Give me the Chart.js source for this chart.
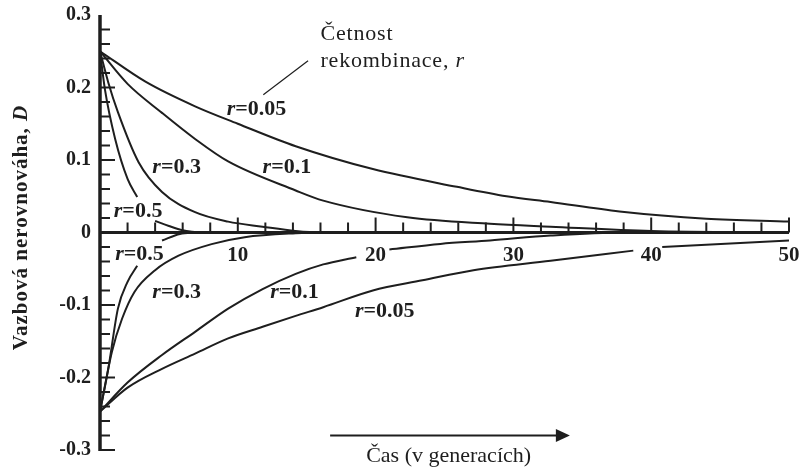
<!DOCTYPE html>
<html>
<head>
<meta charset="utf-8">
<script src="https://cdn.jsdelivr.net/npm/chart.js@4.4.0/dist/chart.umd.min.js"></script>
<style>
  html, body { margin: 0; padding: 0; background: #fff; }
</style>
</head>
<body>
<canvas id="chartLD" width="799" height="467"></canvas>
<script>
// Hodnoty: [generace, D], null = mezera kvůli popisku
const kladne005 = [[0, 0.25], [3.3, 0.208], [6.9, 0.174], [10, 0.150], [14.2, 0.119], [19.8, 0.0875],
                   [25.9, 0.063], [29.5, 0.050], [32.7, 0.042], [37.7, 0.029], [44, 0.019], [50, 0.015]];
const kladne01  = [[0, 0.25], [2, 0.205], [4.5, 0.165], [6.9, 0.129], [9.3, 0.098], [14.2, 0.058],
                   [16.2, 0.044], [22.3, 0.021], [28.3, 0.012], [32.7, 0.008], [40, 0.002], [50, 0]];
const kladne03  = [[0, 0.25], [0.6, 0.207], [1.3, 0.166], [2.8, 0.097], [4.5, 0.056], [6.9, 0.028],
                   [9.3, 0.015], [11.8, 0.008], [14.2, 0.002], [16, 0], [20, 0]];
const kladne05  = [[0, 0.25], [0.36, 0.197], [1.1, 0.129], [2.0, 0.074], [2.7, 0.049], [3.3, null],
                   [4.0, 0.016], [5.0, 0.009], [6.0, 0.003], [7, 0]];

const zaporne05  = [[0, -0.247], [0.6, -0.188], [1.3, -0.105], [2.0, -0.068], [2.7, -0.046], [3.5, null],
                    [4.5, -0.011], [5.8, -0.002], [7, 0]];
const zaporne03  = [[0, -0.247], [0.87, -0.164], [1.6, -0.119], [2.5, -0.082], [4.0, -0.052], [5.7, -0.032],
                    [8.1, -0.016], [10.5, -0.0065], [14.2, -0.001], [16, 0], [20, 0]];
const zaporne01  = [[0, -0.247], [2, -0.207], [4.5, -0.169], [6.9, -0.137], [9.3, -0.105], [11.8, -0.078],
                    [14.2, -0.057], [16.2, -0.044], [18.6, -0.034], [19.8, null], [21, -0.0235],
                    [24.7, -0.0157], [28.3, -0.011], [32.7, -0.0042], [38, 0], [50, 0]];
const zaporne005 = [[0, -0.247], [2, -0.214], [4.5, -0.188], [6.9, -0.167], [9.3, -0.146], [11.8, -0.130],
                    [14.2, -0.115], [16.2, -0.103], [19.8, -0.080], [23.4, -0.066], [27.1, -0.052],
                    [32.7, -0.039], [38.7, -0.025], [39.7, null], [40.8, -0.020], [50, -0.011]];

const serie = [kladne005, kladne01, kladne03, kladne05, zaporne05, zaporne03, zaporne01, zaporne005];

// Popisky křivek (hodnota r) a jejich ukotvení [generace, D]
const popiskyR   = ['0.05', '0.1', '0.3', '0.5', '0.5', '0.3', '0.1', '0.05'];
const popiskyPos = [[9.2, 0.170], [11.8, 0.090], [3.8, 0.090], [1.0, 0.029],
                    [1.1, -0.030], [3.8, -0.083], [12.35, -0.083], [18.5, -0.109]];

const xMin = 0, xMax = 50, yMin = -0.3, yMax = 0.3;
const ink = '#1e1e1e';
const serif = '"Liberation Serif", "Times New Roman", serif';

/* =======================
   OSY, ZNAČKY, POPISKY
======================= */
const kresba = {
    id: 'kresba',
    afterDatasetsDraw(chart) {
        const { ctx, scales: { x, y } } = chart;
        const x0 = x.getPixelForValue(0);
        const y0 = y.getPixelForValue(0);
        const px = (t, d) => [x.getPixelForValue(t), y.getPixelForValue(d)];

        ctx.save();
        ctx.strokeStyle = ink;
        ctx.fillStyle = ink;

        // osa y
        ctx.lineWidth = 3.5;
        ctx.beginPath();
        ctx.moveTo(x0, y.getPixelForValue(yMax));
        ctx.lineTo(x0, y.getPixelForValue(yMin) + 1);
        ctx.stroke();

        // osa x
        ctx.lineWidth = 3;
        ctx.beginPath();
        ctx.moveTo(x0, y0);
        ctx.lineTo(x.getPixelForValue(xMax), y0);
        ctx.stroke();

        // značky
        ctx.lineWidth = 2;
        y.ticks.forEach(t => {
            const v = Math.round(t.value * 100);
            if (v === 0 || v === 30) return;
            const len = v % 10 === 0 ? 15 : 10;
            const py = y.getPixelForValue(t.value);
            ctx.beginPath();
            ctx.moveTo(x0, py);
            ctx.lineTo(x0 + len, py);
            ctx.stroke();
        });
        x.ticks.forEach(t => {
            if (t.value === 0) return;
            const len = t.value % 10 === 0 ? 15 : 10;
            const p = x.getPixelForValue(t.value);
            ctx.beginPath();
            ctx.moveTo(p, y0);
            ctx.lineTo(p, y0 - len);
            ctx.stroke();
        });

        // popisky křivek
        ctx.textBaseline = 'middle';
        ctx.textAlign = 'left';
        popiskyR.forEach((r, i) => {
            const [lx, ly] = px(popiskyPos[i][0], popiskyPos[i][1]);
            ctx.font = `italic bold 22px ${serif}`;
            ctx.fillText('r', lx, ly);
            const w = ctx.measureText('r').width;
            ctx.font = `bold 22px ${serif}`;
            ctx.fillText('=' + r, lx + w, ly);
        });

        // Četnost rekombinace, r
        ctx.textBaseline = 'alphabetic';
        ctx.font = `22px ${serif}`;
        ctx.letterSpacing = '0.8px';
        let [tx, ty] = px(16.0, 0.266);
        ctx.fillText('Četnost', tx, ty);
        [tx, ty] = px(16.0, 0.228);
        ctx.fillText('rekombinace, ', tx, ty);
        const wr = ctx.measureText('rekombinace, ').width;
        ctx.font = `italic 22px ${serif}`;
        ctx.fillText('r', tx + wr, ty);
        ctx.letterSpacing = '0px';

        ctx.lineWidth = 1.2;
        let [a1, b1] = px(15.1, 0.237);
        let [a2, b2] = px(11.85, 0.190);
        ctx.beginPath();
        ctx.moveTo(a1, b1);
        ctx.lineTo(a2, b2);
        ctx.stroke();

        // šipka času
        ctx.lineWidth = 2;
        [a1, b1] = px(16.7, -0.280);
        [a2, b2] = px(34.1, -0.280);
        ctx.beginPath();
        ctx.moveTo(a1, b1);
        ctx.lineTo(a2 - 10, b2);
        ctx.stroke();
        ctx.beginPath();
        ctx.moveTo(a2, b2);
        ctx.lineTo(a2 - 14, b2 - 6.5);
        ctx.lineTo(a2 - 14, b2 + 6.5);
        ctx.closePath();
        ctx.fill();

        ctx.font = `22px ${serif}`;
        ctx.textAlign = 'center';
        [tx, ty] = px(25.3, -0.317);
        ctx.fillText('Čas (v generacích)', tx, ty);

        // název osy y
        ctx.save();
        ctx.translate(27, (chart.chartArea.top + chart.chartArea.bottom) / 2 - 5);
        ctx.rotate(-Math.PI / 2);
        ctx.textAlign = 'left';
        ctx.letterSpacing = '1px';
        const hlavni = 'Vazbová nerovnováha, ';
        ctx.font = `bold 21px ${serif}`;
        const w1 = ctx.measureText(hlavni).width;
        ctx.font = `italic bold 21px ${serif}`;
        const w2 = ctx.measureText('D').width;
        const start = -(w1 + w2) / 2;
        ctx.font = `bold 21px ${serif}`;
        ctx.fillText(hlavni, start, 0);
        ctx.font = `italic bold 21px ${serif}`;
        ctx.fillText('D', start + w1, 0);
        ctx.restore();

        ctx.restore();
    }
};

/* =======================
   GRAF
======================= */
new Chart(document.getElementById('chartLD'), {
    type: 'line',
    data: {
        datasets: serie.map(s => ({
            data: s.map(([t, d]) => ({ x: t, y: d })),
            borderColor: ink,
            borderWidth: 2,
            pointRadius: 0,
            fill: false,
            cubicInterpolationMode: 'monotone',
            spanGaps: false
        }))
    },
    options: {
        responsive: false,
        animation: false,
        layout: { padding: { top: 15, bottom: 17, left: 0, right: 10 } },
        plugins: { legend: { display: false }, tooltip: { enabled: false } },
        scales: {
            x: {
                type: 'linear',
                min: xMin,
                max: xMax,
                position: { y: 0 },
                grid: { display: false, drawTicks: false },
                border: { display: false },
                ticks: {
                    stepSize: 2,
                    autoSkip: false,
                    maxRotation: 0,
                    padding: 10,
                    color: ink,
                    font: { family: serif, size: 21, weight: 'bold' },
                    callback: v => (v % 10 === 0 && v !== 0) ? String(v) : ''
                },
                afterFit: s => { s.paddingLeft = 0; s.paddingRight = 0; }
            },
            y: {
                type: 'linear',
                min: yMin,
                max: yMax,
                grid: { display: false, drawTicks: false },
                border: { display: false },
                ticks: {
                    stepSize: 0.02,
                    autoSkip: false,
                    padding: 9,
                    color: ink,
                    font: { family: serif, size: 20, weight: 'bold' },
                    callback: v => {
                        const n = Math.round(v * 100);
                        return n % 10 === 0 ? String(n / 100) : '';
                    }
                },
                afterFit: s => { s.width = 100; s.paddingTop = 0; s.paddingBottom = 0; }
            }
        }
    },
    plugins: [kresba]
});
</script>
</body>
</html>
